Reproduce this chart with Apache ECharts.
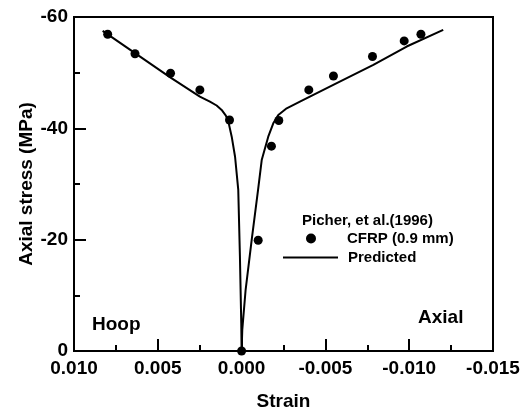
<!DOCTYPE html>
<html>
<head>
<meta charset="utf-8">
<script src="https://cdn.jsdelivr.net/npm/echarts@6/dist/echarts.min.js"></script>
<style>
  html, body { margin: 0; padding: 0; background: #fff; }
  #chart-container { width: 522px; height: 410px; }
</style>
</head>
<body>
<div id="chart-container"></div>
<script>
// test data, Picher et al. (1996), CFRP 0.9 mm
const testStrain = [0.00799, 0.00636, 0.00424, 0.00249, 0.00072, 0.0, -0.00099, -0.00178, -0.00222, -0.00401, -0.00548, -0.00781, -0.0097, -0.0107];
const testStress = [-56.9, -53.4, -49.9, -46.9, -41.5, 0, -19.9, -36.8, -41.4, -46.9, -49.4, -52.9, -55.7, -56.9];

// predicted curve, hoop side then axial side
const predStrain = [0.00829, 0.00636, 0.00428, 0.00249, 0.00189, 0.00149, 0.00119, 0.00094, 0.00079, 0.00059, 0.00039, 0.0002, 0.0001, 0.00002, 0.0,
  -0.00004, -0.00024, -0.0006, -0.00098, -0.0012, -0.00159, -0.00189, -0.00219, -0.00269, -0.00348, -0.00547, -0.00786, -0.00985, -0.01203];
const predStress = [-57.5, -53.5, -49.2, -45.7, -44.8, -44.1, -43.3, -42.3, -41.2, -38.5, -34.9, -29.0, -17.0, -5.0, 0,
  -3.8, -11.0, -19.9, -28.9, -34.3, -38.5, -40.9, -42.4, -43.6, -44.8, -47.8, -51.4, -54.7, -57.7];

const xTicks = [0.010, 0.005, 0.000, -0.005, -0.010, -0.015];
const yTicks = [0, -20, -40, -60];

const FONT = '"Liberation Sans", Arial, sans-serif';

function pairs(xs, ys) {
  let out = [];
  for (let i = 0; i < xs.length; i++) {
    out.push([xs[i], ys[i]]);
  }
  return out;
}

function axisStyle() {
  return {
    axisLine: { show: true, onZero: false, lineStyle: { color: '#000', width: 2 } },
    axisTick: { show: true, inside: true, length: 12, lineStyle: { color: '#000', width: 2 } },
    minorTick: { show: true, splitNumber: 2, length: 6, lineStyle: { color: '#000', width: 2 } },
    splitLine: { show: false },
  };
}

function createChart(id) {
  var dom = document.getElementById(id);
  var myChart = echarts.init(dom, null, { renderer: 'canvas' });
  var option;
  option = {
    animation: false,
    backgroundColor: '#fff',
    textStyle: { fontFamily: FONT },
    grid: {
      left: 74, right: 29, top: 17, bottom: 59,
      outerBoundsMode: 'none',
      containLabel: false,
      show: true, borderColor: '#000', borderWidth: 2,
    },
    title: {
      text: 'Picher, et al.(1996)',
      left: 302, top: 213, padding: 0,
      textStyle: { fontFamily: FONT, fontSize: 15, fontWeight: 'bold', color: '#000' },
    },
    legend: [
      {
        data: ['CFRP (0.9 mm)'],
        left: 306, top: 231, padding: 0,
        icon: 'circle', itemWidth: 10, itemHeight: 10,
        textStyle: { fontFamily: FONT, fontSize: 15, fontWeight: 'bold', color: '#000', padding: [0, 0, 0, 26] },
      },
      {
        data: ['Predicted'],
        left: 283, top: 250, padding: 0,
        icon: 'path://M0,0L55,0L55,2L0,2Z', itemWidth: 55, itemHeight: 2,
        textStyle: { fontFamily: FONT, fontSize: 15, fontWeight: 'bold', color: '#000', padding: [0, 0, 0, 5] },
      },
    ],
    xAxis: Object.assign({
      type: 'value',
      inverse: true,
      min: -0.015, max: 0.010, interval: 0.005,
      name: 'Strain', nameLocation: 'middle', nameGap: 41,
      nameMoveOverlap: false,
      nameTextStyle: { fontFamily: FONT, fontSize: 19, fontWeight: 'bold', color: '#000' },
      axisLabel: {
        margin: 8, color: '#000', fontFamily: FONT, fontSize: 19, fontWeight: 'bold',
        formatter: (v) => v.toFixed(3),
      },
    }, axisStyle()),
    yAxis: Object.assign({
      type: 'value',
      inverse: true,
      min: yTicks[yTicks.length - 1], max: yTicks[0], interval: 20,
      name: 'Axial stress (MPa)', nameLocation: 'middle', nameGap: 38,
      nameMoveOverlap: false,
      nameTextStyle: { fontFamily: FONT, fontSize: 19, fontWeight: 'bold', color: '#000' },
      axisLabel: { margin: 6, color: '#000', fontFamily: FONT, fontSize: 19, fontWeight: 'bold' },
    }, axisStyle()),
    graphic: [
      { type: 'text', left: 92, top: 315, style: { text: 'Hoop', font: 'bold 19px ' + FONT, fill: '#000' } },
      { type: 'text', left: 418, top: 308, style: { text: 'Axial', font: 'bold 19px ' + FONT, fill: '#000' } },
    ],
    series: [
      {
        name: 'Predicted',
        type: 'line',
        data: pairs(predStrain, predStress),
        symbol: 'none',
        smooth: false,
        lineStyle: { color: '#000', width: 2 },
        itemStyle: { color: '#000' },
        z: 2,
      },
      {
        name: 'CFRP (0.9 mm)',
        type: 'scatter',
        data: pairs(testStrain, testStress),
        symbol: 'circle',
        symbolSize: 9,
        itemStyle: { color: '#000', opacity: 1 },
        z: 3,
      },
    ],
  };
  myChart.setOption(option);
}

createChart('chart-container');
</script>
</body>
</html>
